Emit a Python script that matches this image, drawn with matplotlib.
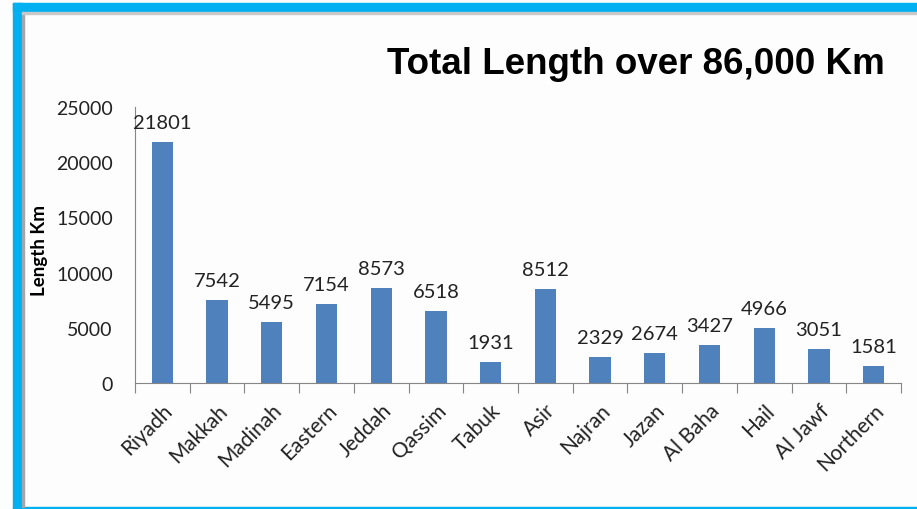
import matplotlib.pyplot as plt
from matplotlib.patches import Rectangle

# Road length per region (Km)
regions = ['Riyadh', 'Makkah', 'Madinah', 'Eastern', 'Jeddah', 'Qassim', 'Tabuk',
           'Asir', 'Najran', 'Jazan', 'Al Baha', 'Hail', 'Al Jawf', 'Northern']
lengths = [21801, 7542, 5495, 7154, 8573, 6518, 1931,
           8512, 2329, 2674, 3427, 4966, 3051, 1581]
y_ticks = [0, 5000, 10000, 15000, 20000, 25000]

fig = plt.figure(figsize=(9.17, 5.10), dpi=100, facecolor='#fdfdfd')

# slide-like frame: cyan bands with a thin grey inner line
fig.patches.append(Rectangle((13/917, 0), 9/917, 1 - 4/510, transform=fig.transFigure,
                             color='#00b0f0', zorder=0))
fig.patches.append(Rectangle((13/917, 1 - 13/510), 1, 9/510, transform=fig.transFigure,
                             color='#00b0f0', zorder=0))
fig.patches.append(Rectangle((13/917, 0), 1, 2.5/510, transform=fig.transFigure,
                             color='#00b0f0', zorder=0))
fig.patches.append(Rectangle((22/917, 2.5/510), 2/917, 1 - 15.5/510, transform=fig.transFigure,
                             color='#a6a6a6', zorder=0))
fig.patches.append(Rectangle((22/917, 1 - 15/510), 1, 2/510, transform=fig.transFigure,
                             color='#c8c8c8', zorder=0))

ax = fig.add_axes([135/917, 1 - 384/510, (901 - 135)/917, (384 - 108)/510])
ax.set_facecolor('none')

x = range(len(regions))
bars = ax.bar(x, lengths, width=0.39, color='#4f81bd')
for xi, v in zip(x, lengths):
    ax.text(xi, v + 1000, str(v), ha='center', va='bottom', fontsize=14.5,
            family='Lato', color='#222222')

ax.set_xlim(-0.5, len(regions) - 0.5)
ax.set_ylim(0, 25000)
ax.set_yticks(y_ticks)
ax.set_yticklabels([str(t) for t in y_ticks], family='Lato', fontsize=14, color='#222222')
ax.set_xticks([i - 0.5 for i in range(len(regions) + 1)], minor=False)
ax.set_xticklabels([])
ax.set_xticks(list(x), minor=True)
ax.set_xticklabels(regions, minor=True, rotation=45, ha='right', rotation_mode='anchor',
                   family='Lato', fontsize=15, color='#222222')
ax.tick_params(axis='x', which='major', length=7, color='#868686', direction='out')
ax.tick_params(axis='x', which='minor', length=0, pad=12)
ax.tick_params(axis='y', length=0, pad=16)

for s in ['top', 'right']:
    ax.spines[s].set_visible(False)
ax.spines['left'].set_color('#868686')
ax.spines['bottom'].set_color('#868686')

fig.text(40/917, 1 - 250/510, 'Length Km', rotation=90, ha='center', va='center',
         fontsize=13.5, fontweight='bold', family='Lato')

fig.text(885/917, 1 - 65/510, 'Total Length over 86,000 Km', ha='right', va='center',
         fontsize=26.5, fontweight='bold', family='Liberation Sans')

fig.savefig('out.png', dpi=100, facecolor=fig.get_facecolor())
